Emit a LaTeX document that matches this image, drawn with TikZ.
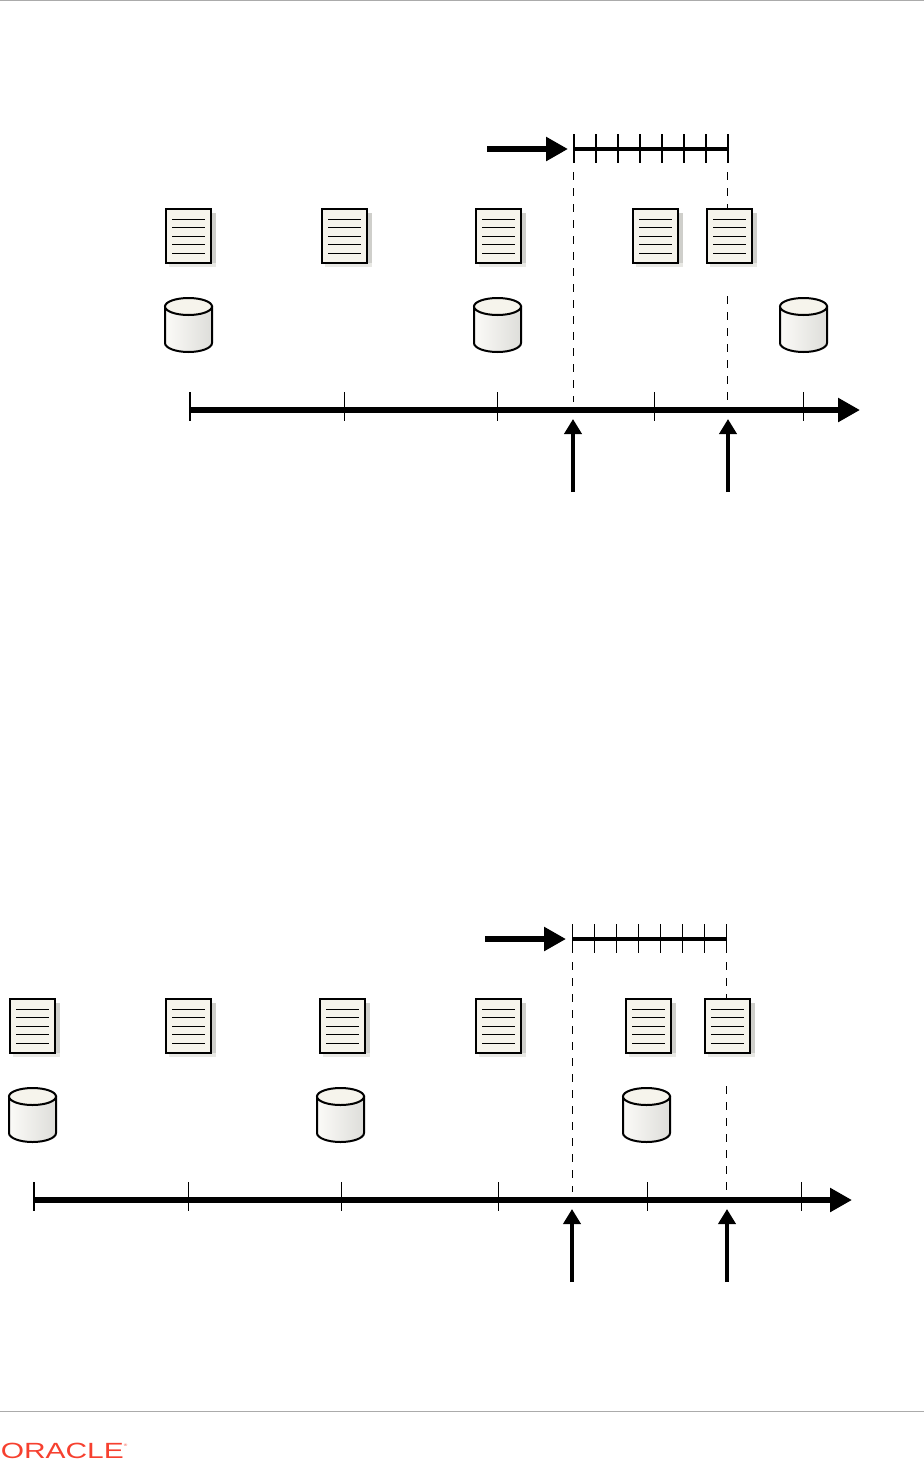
\documentclass[tikz,border=0pt]{standalone}
\usepackage{fontspec}
\setmainfont{Liberation Sans}
\usetikzlibrary{arrows.meta}
\definecolor{docfill}{HTML}{F6F4EC}
\definecolor{docshade}{HTML}{E8E8E4}
\definecolor{docedge}{HTML}{CFCFCB}
\definecolor{rulegray}{HTML}{ABABAB}
\definecolor{logored}{HTML}{F6402F}
\tikzset{
  axisline/.style={line width=6.5pt,-{Triangle[length=22pt,width=23pt]}},
  axistick/.style={line width=1pt},
  scaleline/.style={line width=4.5pt},
  scaletick/.style={line width=2pt},
  markarrow/.style={line width=4pt,-{Triangle[length=15pt,width=17pt]}},
  feedarrow/.style={line width=6pt,-{Triangle[length=22pt,width=23pt]}},
  guide/.style={line width=1pt,dash pattern=on 8pt off 8pt},
  docbox/.style={draw,line width=2.5pt,fill=docfill,minimum width=45pt,minimum height=54pt,inner sep=0pt,outer sep=0pt},
  docicon/.pic={
    \fill[docshade] (-20,-23) rectangle (27,31);
    \fill[docedge] (22,-23) rectangle (27,27);
    \node[docbox] (-box) at (0,0) {};
    \foreach \ly in {-17,-9,0,8,17}
      \draw[line width=1pt] (-16.5,\ly) -- (16.5,\ly);
  },
  dbicon/.pic={
    \path[line width=2pt,draw,left color=docfill!40!white,right color=docshade!90!gray]
      (-23.5,-18.5) -- (-23.5,18) arc[start angle=180,end angle=0,x radius=23.5,y radius=9]
      -- (23.5,-18.5) -- cycle;
    \draw[line width=2pt,fill=docfill] (0,-18.5) circle[x radius=23.5,y radius=8.5];
  }
}
\begin{document}
\begin{tikzpicture}[x=1pt,y=-1pt]
\useasboundingbox (0,0) rectangle (924,1460);
% page rules
\coordinate (topl) at (0,0.5);
\coordinate (topr) at (924,0.5);
\coordinate (footl) at (0,1411.5);
\coordinate (footr) at (924,1411.5);
\draw[rulegray,line width=1pt] (topl) -- (topr);
\draw[rulegray,line width=1pt] (footl) -- (footr);
\node[anchor=base west,inner sep=0pt,text=logored,xscale=1.36,font=\fontsize{22}{24}\selectfont] (logo) at (0.5,1458) {ORACLE\raisebox{11.5pt}{\fontsize{3.5}{4}\selectfont ®}};
% first timeline
\coordinate (a0) at (190,410);
\coordinate (aend) at (860,410);
\coordinate (fa) at (487,149);
\coordinate (fb) at (568,149);
\coordinate (sa) at (574,149);
\coordinate (sb) at (728,149);
\coordinate (ga) at (573.5,172);
\coordinate (gb) at (573.5,402);
\coordinate (gc) at (727.5,172);
\coordinate (gd) at (727.5,209);
\coordinate (ge) at (727.5,296);
\coordinate (gf) at (727.5,400);
\coordinate (ma) at (573,492);
\coordinate (mb) at (573,419);
\coordinate (mc) at (728,492);
\coordinate (md) at (728,419);
\draw[guide] (ga) -- (gb);
\draw[guide] (gc) -- (gd);
\draw[guide] (ge) -- (gf);
\foreach \dx/\dn in {188.5/1,344.5/2,498.5/3,655.5/4,729.5/5}
  \pic (doca\dn) at (\dx,236) {docicon};
\foreach \cx/\cn in {188.5/1,497.5/2,803.5/3}
  \pic (dba\cn) at (\cx,325) {dbicon};
\draw[axisline] (a0) -- (aend);
\foreach \tx in {344,497,654,803}
  \draw[axistick] (\tx,392) -- (\tx,421);
\draw[line width=1.5pt] (190,392) -- (190,421);
\draw[feedarrow] (fa) -- (fb);
\draw[scaleline] (sa) -- (sb);
\foreach \tx in {574,596,618,640,662,684,706,728}
  \draw[scaletick] (\tx,134) -- (\tx,163);
\draw[markarrow] (ma) -- (mb);
\draw[markarrow] (mc) -- (md);
% second timeline
\coordinate (b0) at (34,1200);
\coordinate (bend) at (852,1200);
\coordinate (fc) at (485,939);
\coordinate (fd) at (566,939);
\coordinate (sc) at (572,939);
\coordinate (sd) at (726,939);
\coordinate (gg) at (572,962);
\coordinate (gh) at (572,1192);
\coordinate (gi) at (726,962);
\coordinate (gj) at (726,999);
\coordinate (gk) at (726,1086);
\coordinate (gl) at (726,1190);
\coordinate (me) at (572,1282);
\coordinate (mf) at (572,1209);
\coordinate (mg) at (727,1282);
\coordinate (mh) at (727,1209);
\draw[guide] (gg) -- (gh);
\draw[guide] (gi) -- (gj);
\draw[guide] (gk) -- (gl);
\foreach \dx/\dn in {32.5/1,188.5/2,342.5/3,498.5/4,648.5/5,727.5/6}
  \pic (docb\dn) at (\dx,1026) {docicon};
\foreach \cx/\cn in {32.5/1,340.5/2,646.5/3}
  \pic (dbb\cn) at (\cx,1115) {dbicon};
\draw[axisline] (b0) -- (bend);
\foreach \tx in {188,341,498,647,801}
  \draw[axistick] (\tx,1182) -- (\tx,1211);
\draw[line width=1.5pt] (34,1182) -- (34,1211);
\draw[feedarrow] (fc) -- (fd);
\draw[scaleline] (sc) -- (sd);
\foreach \tx in {572,594,616,638,660,682,704,726}
  \draw[axistick] (\tx,924) -- (\tx,953);
\draw[markarrow] (me) -- (mf);
\draw[markarrow] (mg) -- (mh);
\end{tikzpicture}
\end{document}
